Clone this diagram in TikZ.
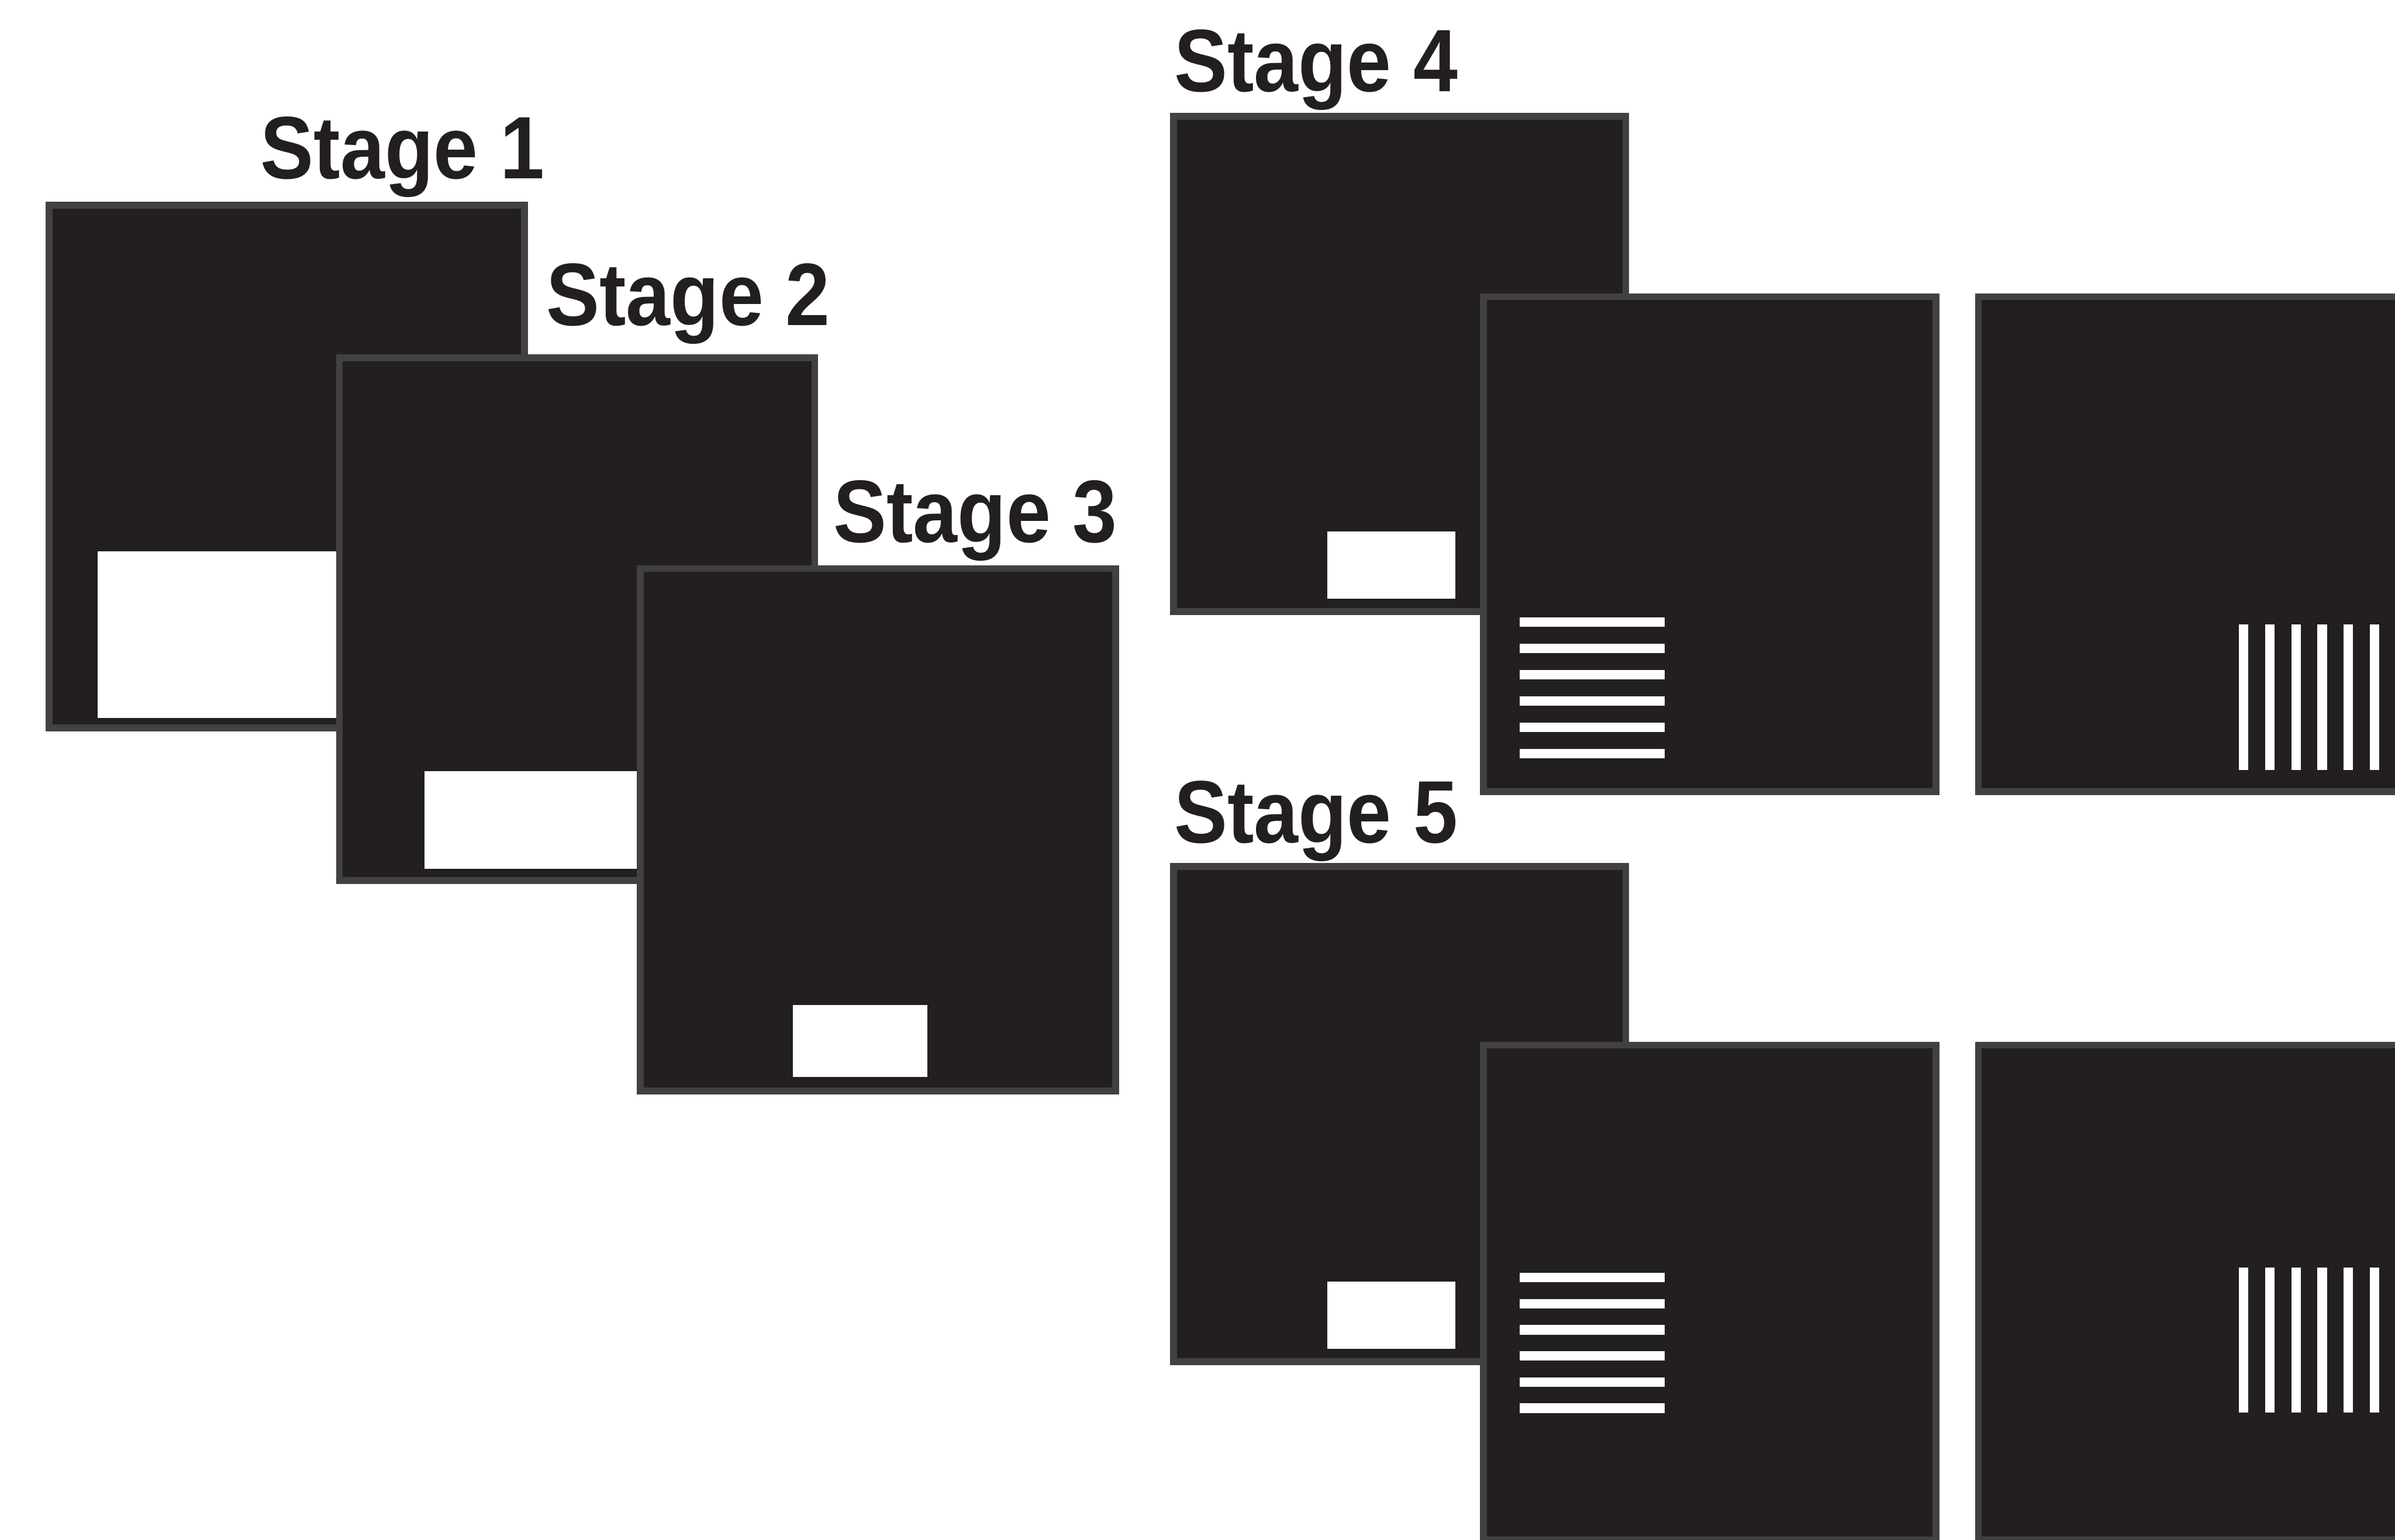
\documentclass[tikz,border=0pt]{standalone}
\usepackage{fontspec}
\setmainfont{Liberation Sans}
\newfontfamily\stagefont[FakeStretch=0.9]{Liberation Sans}
\usetikzlibrary{positioning}
\definecolor{ink}{HTML}{231F20}
\definecolor{rim}{HTML}{414042}
\tikzset{
    screen/.style={draw=rim, fill=ink, line width=0.045cm, anchor=north west, inner sep=0pt},
    bigscreen/.style={screen, minimum width=3.11cm, minimum height=3.42cm},
    smallscreen/.style={screen, minimum width=2.96cm, minimum height=3.24cm},
    target/.style={fill=white},
    stagelabel/.style={anchor=base west, inner sep=0pt, text=ink, font=\stagefont\fontsize{16.5}{19}\selectfont\bfseries},
    bar/.style={white, line width=0.062cm}
}

\begin{document}
\begin{tikzpicture}[x=0.01cm, y=-0.01cm]
    \useasboundingbox (0,0) rectangle (1568,1008);
    \clip (0,0) rectangle (1568,1008);

    % stages 1-3: shrinking target
    \node [bigscreen] (s1) at (30,132) {};
    \fill [target] (64,361) rectangle (300,470);
    \node [bigscreen] (s2) at (220,232) {};
    \fill [target] (278,505) rectangle (460,569);
    \node [bigscreen] (s3) at (417,370) {};
    \fill [target] (519,658) rectangle (607,705);

    \node [stagelabel] (l1) at (170,117) {Stage 1};
    \node [stagelabel] (l2) at (357,213) {Stage 2};
    \node [stagelabel] (l3) at (545,355) {Stage 3};

    % stage 4
    \node [smallscreen] (s4) at (766,74) {};
    \fill [target] (869,348) rectangle (953,392);
    \node [smallscreen] (s4h) at (969,192) {};
    \foreach \i in {0,...,5}
        \draw [bar] (995,{407.3+17.2*\i}) -- (1090,{407.3+17.2*\i});
    \node [smallscreen] (s4v) at (1293,192) {};
    \foreach \i in {0,...,5}
        \draw [bar] ({1469+17.1*\i},409) -- ({1469+17.1*\i},504);
    \node [stagelabel] (l4) at (768,60) {Stage 4};

    % stage 5
    \node [smallscreen] (s5) at (766,565) {};
    \fill [target] (869,839) rectangle (953,883);
    \node [smallscreen] (s5h) at (969,682) {};
    \foreach \i in {0,...,5}
        \draw [bar] (995,{836.5+17.1*\i}) -- (1090,{836.5+17.1*\i});
    \node [smallscreen] (s5v) at (1293,682) {};
    \foreach \i in {0,...,5}
        \draw [bar] ({1469+17.1*\i},830) -- ({1469+17.1*\i},925);
    \node [stagelabel] (l5) at (768,552) {Stage 5};
\end{tikzpicture}
\end{document}
